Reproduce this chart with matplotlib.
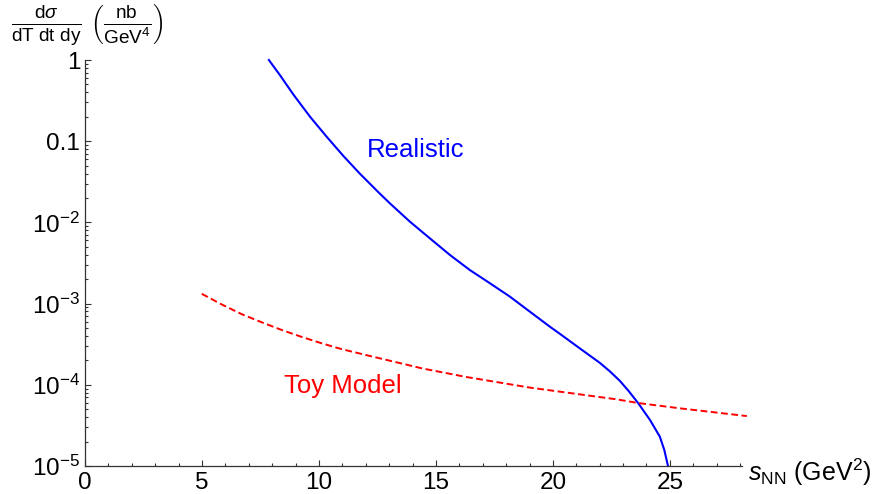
"""
    Differential cross section vs s_NN, realistic vs toy model
"""

import matplotlib
matplotlib.use('Agg')
import matplotlib.pyplot as plt
from matplotlib.ticker import FixedLocator, LogLocator, NullFormatter

plt.rcParams['font.family'] = ['Liberation Sans', 'DejaVu Sans']
plt.rcParams['mathtext.fontset'] = 'custom'
plt.rcParams['mathtext.rm'] = 'Liberation Sans'
plt.rcParams['mathtext.it'] = 'Liberation Sans:italic'
plt.rcParams['mathtext.bf'] = 'Liberation Sans:bold'

# realistic curve
s_real = [7.86, 8.33, 8.90, 9.62, 10.33, 11.04, 11.75, 12.53, 13.03,
          13.89, 14.74, 15.60, 16.45, 17.31, 18.16, 19.02, 19.87, 20.30,
          21.15, 22.01, 22.44, 22.86, 23.25, 23.65, 24.15, 24.57, 24.76,
          24.92]
y_real = [1.0, 0.653, 0.378, 0.200, 0.1135, 6.60e-2, 3.98e-2, 2.37e-2,
          1.72e-2, 1.02e-2, 6.37e-3, 3.97e-3, 2.59e-3, 1.78e-3, 1.22e-3,
          7.94e-4, 5.20e-4, 4.24e-4, 2.81e-4, 1.86e-4, 1.46e-4, 1.12e-4,
          8.30e-5, 5.92e-5, 3.69e-5, 2.30e-5, 1.58e-5, 1.0e-5]

# toy model curve
s_toy = [4.99, 5.84, 6.70, 7.55, 8.41, 9.26, 10.12, 10.97, 12.39, 14.44,
         16.32, 19.02, 22.74, 23.65, 25.43, 28.29]
y_toy = [1.32e-3, 9.77e-4, 7.41e-4, 5.89e-4, 4.73e-4, 3.89e-4, 3.24e-4,
         2.75e-4, 2.19e-4, 1.585e-4, 1.245e-4, 9.23e-5, 6.61e-5, 5.96e-5,
         5.13e-5, 4.12e-5]

xticks = [0, 5, 10, 15, 20, 25]
yticks = [1, 0.1, 1e-2, 1e-3, 1e-4, 1e-5]
ylabels = ['1', '0.1', r'$\mathregular{10^{-2}}$', r'$\mathregular{10^{-3}}$',
           r'$\mathregular{10^{-4}}$', r'$\mathregular{10^{-5}}$']

fig = plt.figure(figsize=(8.8, 4.94), dpi=100)
ax = fig.add_axes([0.0966, 0.0567, 0.7465, 0.8218])

# plot curves
ax.plot(s_real, y_real, color=(0, 0, 1), lw=1.5, clip_on=False,
        solid_joinstyle='round')
ax.plot(s_toy, y_toy, color=(1, 0, 0), lw=1.4, dashes=(3.5, 1.8), clip_on=False)

ax.set_yscale('log')
ax.set_xlim(0, 28.08)
ax.set_ylim(1e-5, 1)

# mathematica style axes
for side in ['top', 'right']:
    ax.spines[side].set_visible(False)
for side in ['left', 'bottom']:
    ax.spines[side].set_linewidth(0.9)
    ax.spines[side].set_color('#333333')

ax.xaxis.set_major_locator(FixedLocator(xticks))
ax.xaxis.set_minor_locator(FixedLocator([i for i in range(0, 29) if i % 5]))
ax.yaxis.set_major_locator(FixedLocator(yticks))
ax.yaxis.set_minor_locator(LogLocator(base=10, subs=range(2, 10), numticks=20))
ax.yaxis.set_minor_formatter(NullFormatter())
ax.set_yticklabels(ylabels)
ax.set_xticklabels([str(t) for t in xticks])

ax.tick_params(which='both', direction='in', color='#333333', width=0.8,
               labelsize=17.5)
ax.tick_params(which='major', length=4)
ax.tick_params(which='minor', length=2.3)
ax.tick_params(axis='x', pad=4)
ax.tick_params(axis='y', pad=3.5)

# labels
ax.text(12.04, 6.44e-2, 'Realistic', color=(0, 0, 1), fontsize=18.5,
        va='baseline')
ax.text(8.5, 7.86e-5, 'Toy Model', color=(1, 0, 0), fontsize=18.5,
        va='baseline')

fig.text(0.85, 0.0263, r'$s_{\mathregular{NN}}$ (GeV$^{\mathregular{2}}$)',
         fontsize=18, ha='left', va='baseline')
fig.text(0.012, 0.995,
         r'$\frac{\mathregular{d}\sigma}{\mathregular{dT\ dt\ dy}}\ '
         r'\left(\frac{\mathregular{nb}}{\mathregular{GeV}^{\mathregular{4}}}\right)$',
         fontsize=19.5, ha='left', va='top')

fig.savefig('out.png', dpi=100)
